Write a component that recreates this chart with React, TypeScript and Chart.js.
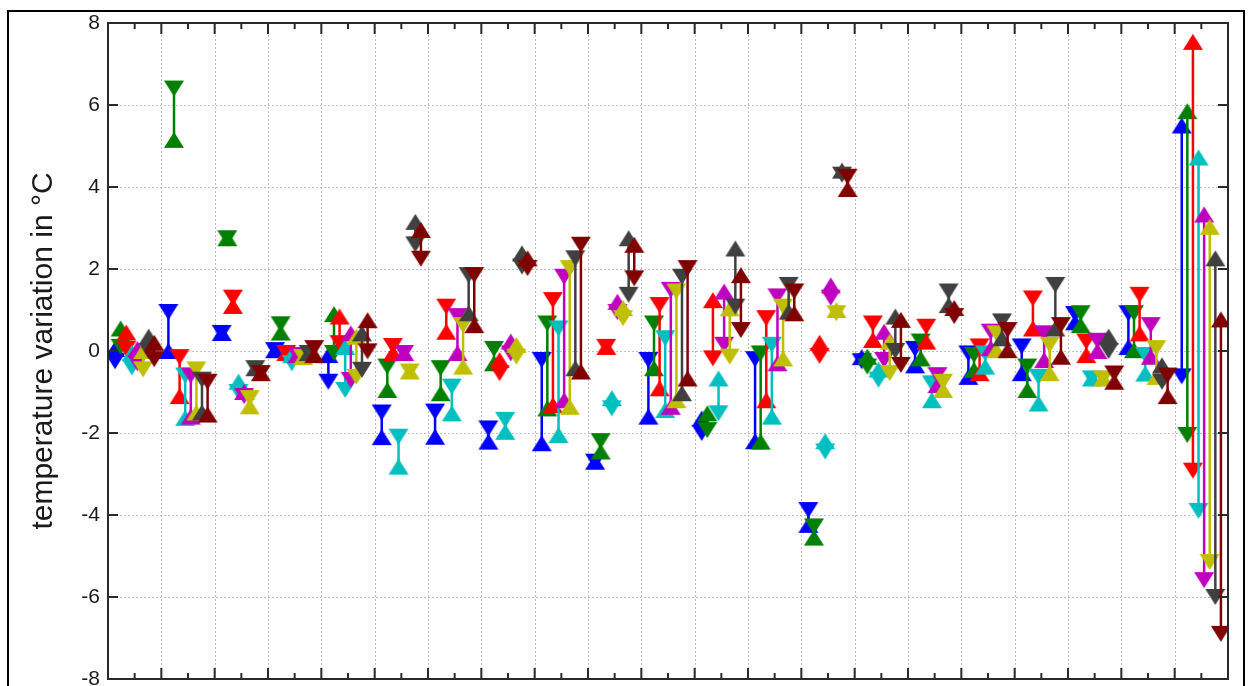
import React, { useEffect, useRef } from "react";
import { Chart, registerables } from "chart.js";

Chart.register(...registerables);

// ---------- data ----------
const GROUPS = [0, 1, 2, 3, 4, 5, 6, 7, 8, 9, 10, 11, 12, 13, 14, 15, 16, 17, 18, 19, 20];
const Y_TICKS = [-8, -6, -4, -2, 0, 2, 4, 6, 8];
const SERIES = ["S1", "S2", "S3", "S4", "S5", "S6", "S7", "S8"];
const COLORS = ["#0000FF", "#008000", "#FF0000", "#00BFBF", "#BF00BF", "#BFBF00", "#404040", "#800000"];

// ▲ markers
const BLUE_UP = [0.05, 0.0, 0.44, 0.02, -0.1, -2.1, -2.09, -2.21, -2.25, -2.7, -1.6, -1.65, -2.2, -4.24, -0.15, -0.35, -0.63, -0.54, 0.7, 0.1, 5.5];
const GREEN_UP = [0.55, 5.15, 2.75, 0.45, 0.9, -0.95, -1.03, -0.3, -1.4, -2.45, -0.42, -1.52, -2.21, -4.55, -0.14, -0.18, -0.46, -0.95, 0.63, 0.02, 5.85];
const RED_UP = [0.45, -1.1, 1.1, -0.05, 0.84, -0.05, 0.47, -0.22, -1.32, 0.1, -0.91, 1.24, -1.2, 0.2, 0.27, 0.23, -0.54, 0.55, -0.1, 0.43, 7.54];
const CYAN_UP = [-0.05, -1.63, -0.75, -0.1, 0.1, -2.82, -1.52, -1.97, -2.05, -1.15, -1.44, -0.67, -1.6, -2.2, -0.45, -1.2, -0.38, -1.28, -0.67, -0.55, 4.72];
const MAGENTA_UP = [0.05, -1.6, -1.0, -0.1, 0.43, -0.05, -0.05, 0.23, -1.2, 1.2, -1.36, 1.45, -0.3, 1.6, 0.47, -0.83, 0.07, -0.22, 0.0, -0.14, 3.33];
const YELLOW_UP = [0.0, -1.5, -1.35, -0.15, 0.35, -0.5, -0.38, 0.15, -1.36, 1.05, -1.2, 1.04, -0.18, 1.0, 0.23, -0.95, 0.02, -0.54, -0.67, -0.63, 3.03];
const GRAY_UP = [0.35, -1.5, -0.42, -0.05, 0.43, 3.15, 0.92, 2.38, -0.42, 2.75, -1.03, 2.5, 0.96, 4.4, 0.84, 1.12, 0.31, 0.55, 0.35, -0.35, 2.26];
const MAROON_UP = [0.2, -1.55, -0.54, -0.1, 0.75, 2.95, 0.63, 2.26, -0.5, 2.59, -0.67, 1.85, 0.92, 3.95, 0.76, 1.05, 0.02, -0.14, -0.75, -1.1, 0.77];

// ▼ markers
const BLUE_DN = [-0.25, 0.95, 0.44, 0.02, -0.75, -1.5, -1.48, -1.89, -0.22, -2.7, -0.22, -2.0, -0.2, -3.88, -0.25, 0.05, -0.06, 0.11, 0.9, 0.92, -0.62];
const GREEN_DN = [0.1, 6.4, 2.75, 0.65, -0.05, -0.38, -0.42, 0.05, 0.67, -2.2, 0.67, -1.93, -0.06, -4.28, -0.38, 0.23, -0.1, -0.38, 0.92, 0.92, -2.05];
const RED_DN = [0.05, -0.15, 1.3, -0.05, 0.19, 0.12, 1.08, -0.54, 1.24, 0.1, 1.12, -0.18, 0.8, -0.12, 0.67, 0.59, 0.11, 1.28, 0.23, 1.37, -2.92];
const CYAN_DN = [-0.4, -0.6, -1.0, -0.3, -0.95, -2.09, -0.87, -1.68, 0.55, -1.4, 0.31, -1.52, 0.15, -2.45, -0.7, -0.79, -0.06, -0.63, -0.67, -0.1, -3.9];
const MAGENTA_DN = [-0.3, -0.6, -1.1, -0.1, -0.71, -0.05, 0.85, -0.06, 1.81, 0.95, 1.49, 0.15, 1.33, 1.3, -0.22, -0.59, 0.47, 0.43, 0.25, 0.63, -5.59];
const YELLOW_DN = [-0.45, -0.45, -1.15, -0.15, -0.63, -0.5, 0.63, -0.14, 2.02, 0.8, 1.45, -0.14, 1.08, 0.92, -0.54, -0.75, 0.43, 0.15, -0.67, 0.07, -5.15];
const GRAY_DN = [0.0, -0.7, -0.42, -0.05, -0.46, 2.6, 1.85, 2.06, 2.26, 1.37, 1.81, 1.08, 1.61, 4.3, 0.0, 1.45, 0.72, 1.61, 0.0, -0.75, -6.0];
const MAROON_DN = [-0.2, -0.75, -0.54, 0.07, -0.01, 2.25, 1.85, 2.02, 2.59, 1.77, 2.02, 0.51, 1.45, 4.25, -0.34, 0.85, 0.51, 0.63, -0.55, -0.6, -6.9];

const UP = [BLUE_UP, GREEN_UP, RED_UP, CYAN_UP, MAGENTA_UP, YELLOW_UP, GRAY_UP, MAROON_UP];
const DN = [BLUE_DN, GREEN_DN, RED_DN, CYAN_DN, MAGENTA_DN, YELLOW_DN, GRAY_DN, MAROON_DN];

// ---------- styling ----------
const SPREAD = 0.105; // offset between series within a group (x units)
const TRI_W = 20;
const TRI_H = 16;
const AXIS_COLOR = "#2a2a2a";
const TEXT_COLOR = "#1a1a1a";
const FONT = "'Liberation Sans', Arial, Helvetica, sans-serif";

function makeTriangle(color: string): HTMLCanvasElement {
  const c = document.createElement("canvas");
  c.width = TRI_W + 2;
  c.height = TRI_H + 2;
  const g = c.getContext("2d")!;
  g.fillStyle = color;
  g.beginPath();
  g.moveTo(c.width / 2, 1);
  g.lineTo(c.width - 1, c.height - 1);
  g.lineTo(1, c.height - 1);
  g.closePath();
  g.fill();
  return c;
}

const axesPlugin = {
  id: "matlabAxes",
  beforeDatasetsDraw(chart: any) {
    const { ctx, chartArea: a, scales } = chart;
    const x = scales.x;
    const y = scales.y;
    ctx.save();
    ctx.strokeStyle = "#c2c2c2";
    ctx.lineWidth = 1;
    ctx.setLineDash([2, 2]);
    GROUPS.slice(0, -1).forEach((g) => {
      const px = Math.round(x.getPixelForValue(g + 0.5)) + 0.5;
      ctx.beginPath();
      ctx.moveTo(px, a.top);
      ctx.lineTo(px, a.bottom);
      ctx.stroke();
    });
    Y_TICKS.slice(1, -1).forEach((t) => {
      const py = Math.round(y.getPixelForValue(t)) + 0.5;
      ctx.beginPath();
      ctx.moveTo(a.left, py);
      ctx.lineTo(a.right, py);
      ctx.stroke();
    });
    ctx.restore();
  },
  afterDatasetsDraw(chart: any) {
    const { ctx, chartArea: a, scales } = chart;
    const x = scales.x;
    const y = scales.y;
    ctx.save();
    ctx.strokeStyle = AXIS_COLOR;
    ctx.lineWidth = 2;
    ctx.setLineDash([]);
    ctx.strokeRect(a.left, a.top, a.right - a.left, a.bottom - a.top);
    const seg = (x1: number, y1: number, x2: number, y2: number) => {
      ctx.beginPath();
      ctx.moveTo(x1, y1);
      ctx.lineTo(x2, y2);
      ctx.stroke();
    };
    GROUPS.forEach((g) => {
      const pc = x.getPixelForValue(g);
      seg(pc, a.bottom, pc, a.bottom - 6);
      seg(pc, a.top, pc, a.top + 6);
      if (g < GROUPS[GROUPS.length - 1]) {
        const pb = x.getPixelForValue(g + 0.5);
        seg(pb, a.bottom, pb, a.bottom - 11);
        seg(pb, a.top, pb, a.top + 11);
      }
    });
    Y_TICKS.forEach((t) => {
      const py = y.getPixelForValue(t);
      seg(a.left, py, a.left + 10, py);
      seg(a.right, py, a.right - 10, py);
    });
    ctx.restore();
  },
};

export default function App() {
  const ref = useRef<HTMLCanvasElement>(null);

  useEffect(() => {
    if (!ref.current) return;
    const tris = COLORS.map((c) => makeTriangle(c));
    const datasets: any[] = [];
    SERIES.forEach((name, k) => {
      const off = (k - 3.5) * SPREAD;
      const up = UP[k];
      const dn = DN[k];
      const lineData: any[] = [];
      GROUPS.forEach((g, i) => {
        lineData.push({ x: g + off, y: up[i] }, { x: g + off, y: dn[i] }, { x: g + off, y: null });
      });
      datasets.push({
        label: name + " range",
        data: lineData,
        showLine: true,
        spanGaps: false,
        borderColor: COLORS[k],
        borderWidth: 2.5,
        pointRadius: 0,
        pointHoverRadius: 0,
        order: 100 - 3 * k,
      });
      datasets.push({
        label: name + " up",
        data: GROUPS.map((g, i) => ({ x: g + off, y: up[i] })),
        showLine: false,
        pointStyle: tris[k],
        pointRadius: 10,
        pointRotation: 0,
        order: 99 - 3 * k,
      });
      datasets.push({
        label: name + " down",
        data: GROUPS.map((g, i) => ({ x: g + off, y: dn[i] })),
        showLine: false,
        pointStyle: tris[k],
        pointRadius: 10,
        pointRotation: 180,
        order: 98 - 3 * k,
      });
    });

    const chart = new Chart(ref.current, {
      type: "scatter",
      data: { datasets },
      options: {
        animation: false,
        responsive: false,
        devicePixelRatio: 1,
        events: [],
        layout: { padding: { left: 0, top: 23, right: 21, bottom: 21 } },
        plugins: { legend: { display: false }, tooltip: { enabled: false }, title: { display: false } },
        scales: {
          x: { type: "linear", min: -0.5, max: 20.5, display: false },
          y: {
            type: "linear",
            min: -8,
            max: 8,
            afterBuildTicks: (s: any) => {
              s.ticks = Y_TICKS.map((v) => ({ value: v }));
            },
            afterFit: (s: any) => {
              s.width = 108;
            },
            ticks: {
              padding: 8,
              color: TEXT_COLOR,
              font: { family: FONT, size: 21 },
            },
            grid: { display: false, drawTicks: false },
            border: { display: false },
            title: {
              display: true,
              text: "temperature variation in °C",
              color: TEXT_COLOR,
              font: { family: FONT, size: 30 },
              padding: { top: 26, bottom: 0 },
            },
          },
        },
      },
      plugins: [axesPlugin],
    });
    return () => chart.destroy();
  }, []);

  return (
    <div style={{ position: "fixed", left: 0, top: 0, width: 1249, height: 686, overflow: "hidden", background: "#fff" }}>
      <div
        style={{
          position: "absolute",
          left: 7,
          top: 10,
          width: 1238,
          height: 720,
          border: "2px solid #000",
          boxSizing: "border-box",
        }}
      />
      <canvas ref={ref} width={1249} height={700} style={{ position: "absolute", left: 0, top: 0 }} />
    </div>
  );
}
